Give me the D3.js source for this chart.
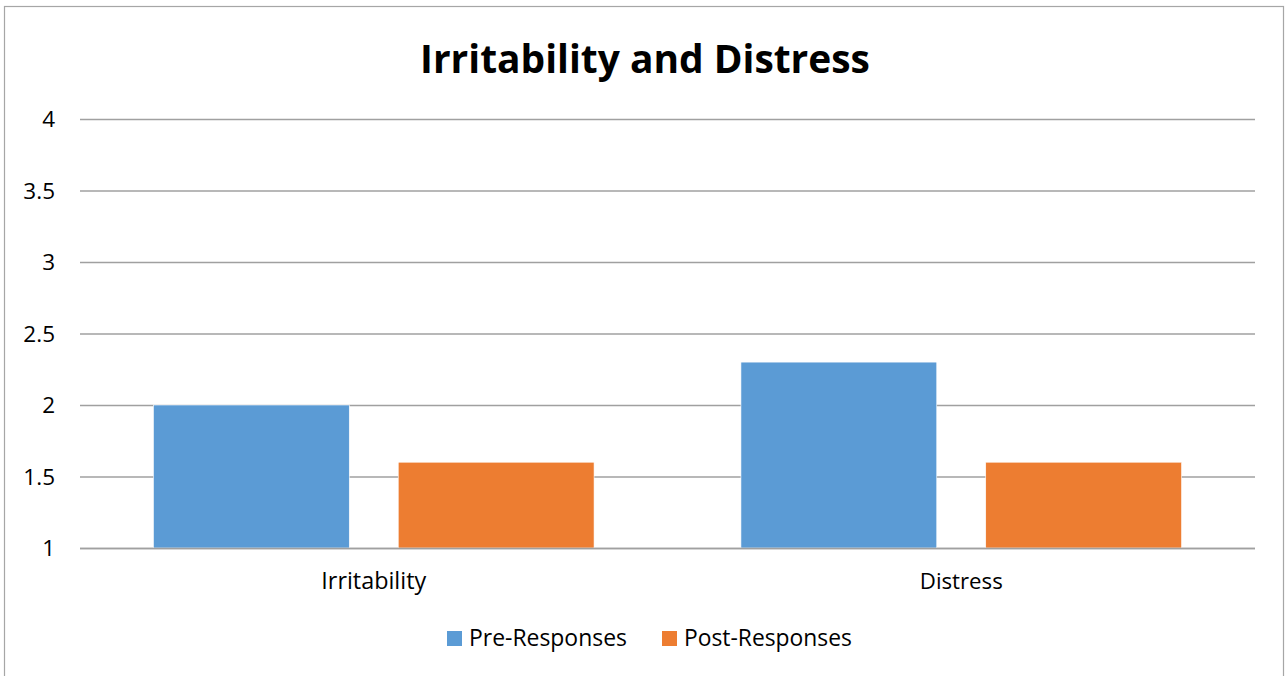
<!DOCTYPE html>
<html>
<head>
<meta charset="utf-8">
<script src="https://cdn.jsdelivr.net/npm/d3@7"></script>
<style>
  html, body { margin: 0; padding: 0; background: #fff; }
  svg { display: block; }
  text { font-family: "Open Sans", "Noto Sans", sans-serif; fill: #000; }
</style>
</head>
<body>
<svg id="chart" width="1285" height="676"></svg>
<script>
// Chart data
const title = "Irritability and Distress";
const categories = ["Irritability", "Distress"];
const seriesNames = ["Pre-Responses", "Post-Responses"];
const preResponses = [2.0, 2.3];
const postResponses = [1.6, 1.6];
const yTicks = [1, 1.5, 2, 2.5, 3, 3.5, 4];
const colors = ["#5B9BD5", "#ED7D31"];

const seriesValues = [preResponses, postResponses];
const rows = categories.map((c, i) => ({
  category: c,
  values: seriesNames.map((s, j) => ({ series: s, value: seriesValues[j][i], idx: j }))
}));

const svg = d3.select("#chart");
const plot = { left: 80, right: 1255, top: 119, bottom: 548 };

// outer chart frame
svg.append("rect")
  .attr("x", 4.5).attr("y", 6.5)
  .attr("width", 1279).attr("height", 690)
  .attr("fill", "#fff")
  .attr("stroke", "#a6a6a6").attr("stroke-width", 1.2);

const x0 = d3.scaleBand().domain(categories).range([plot.left, plot.right]).padding(0);
const x1 = d3.scaleBand().domain(seriesNames).range([0, x0.bandwidth()])
  .paddingInner(0.2).paddingOuter(0.3);
const y = d3.scaleLinear().domain([1, 4]).range([plot.bottom, plot.top]);

// helper: set text size so it spans a given width
function fitWidth(sel, width) {
  const node = sel.node();
  const base = parseFloat(sel.attr("font-size"));
  const w = node.getComputedTextLength();
  sel.attr("font-size", (base * width / w).toFixed(2));
  return sel;
}

// gridlines + value labels
const yAxis = d3.axisLeft(y).tickValues(yTicks)
  .tickSize(-(plot.right - plot.left)).tickPadding(25)
  .tickFormat(d3.format("~g"));
const gy = svg.append("g").attr("transform", `translate(${plot.left},0)`).call(yAxis);
gy.select(".domain").remove();
gy.selectAll(".tick line").attr("stroke", "#a0a0a0").attr("stroke-width", 1.3);
gy.selectAll(".tick text")
  .attr("font-size", 22.5).attr("fill", "#000")
  .attr("font-family", "\"Open Sans\", sans-serif")
  .attr("dy", "0.35em");

// bars
const groups = svg.append("g").selectAll("g").data(rows).join("g")
  .attr("transform", d => `translate(${x0(d.category)},0)`);
groups.selectAll("rect").data(d => d.values).join("rect")
  .attr("x", d => x1(d.series))
  .attr("width", x1.bandwidth())
  .attr("y", d => y(d.value))
  .attr("height", d => y(1) - y(d.value))
  .attr("fill", d => colors[d.idx])
  .attr("stroke", "#fff").attr("stroke-width", 0.6);

// category axis line
svg.append("line")
  .attr("x1", plot.left).attr("x2", plot.right)
  .attr("y1", plot.bottom + 0.5).attr("y2", plot.bottom + 0.5)
  .attr("stroke", "#a0a0a0").attr("stroke-width", 1.3);

// category labels
const xAxis = d3.axisBottom(x0).tickSize(0).tickPadding(0);
const gx = svg.append("g").attr("transform", `translate(0,${plot.bottom})`).call(xAxis);
gx.select(".domain").remove();
const catWidths = { "Irritability": 105, "Distress": 83 };
gx.selectAll(".tick text")
  .attr("font-size", 20).attr("fill", "#000")
  .attr("font-family", "\"Open Sans\", sans-serif")
  .attr("dy", null)
  .attr("y", 41)
  .each(function(d) { fitWidth(d3.select(this), catWidths[d]); });

// title
const t = svg.append("text")
  .attr("x", 645).attr("y", 73)
  .attr("text-anchor", "middle")
  .attr("font-weight", "bold")
  .attr("font-size", 36)
  .text(title);
fitWidth(t, 450);

// legend
const legendItems = [
  { name: seriesNames[0], color: colors[0], sx: 447, tx: 469, w: 158 },
  { name: seriesNames[1], color: colors[1], sx: 662, tx: 684, w: 168 }
];
const lg = svg.append("g");
legendItems.forEach(it => {
  lg.append("rect").attr("x", it.sx).attr("y", 631)
    .attr("width", 15).attr("height", 15).attr("fill", it.color);
  const lt = lg.append("text").attr("x", it.tx).attr("y", 646)
    .attr("font-size", 20).text(it.name);
  fitWidth(lt, it.w);
});
</script>
</body>
</html>
